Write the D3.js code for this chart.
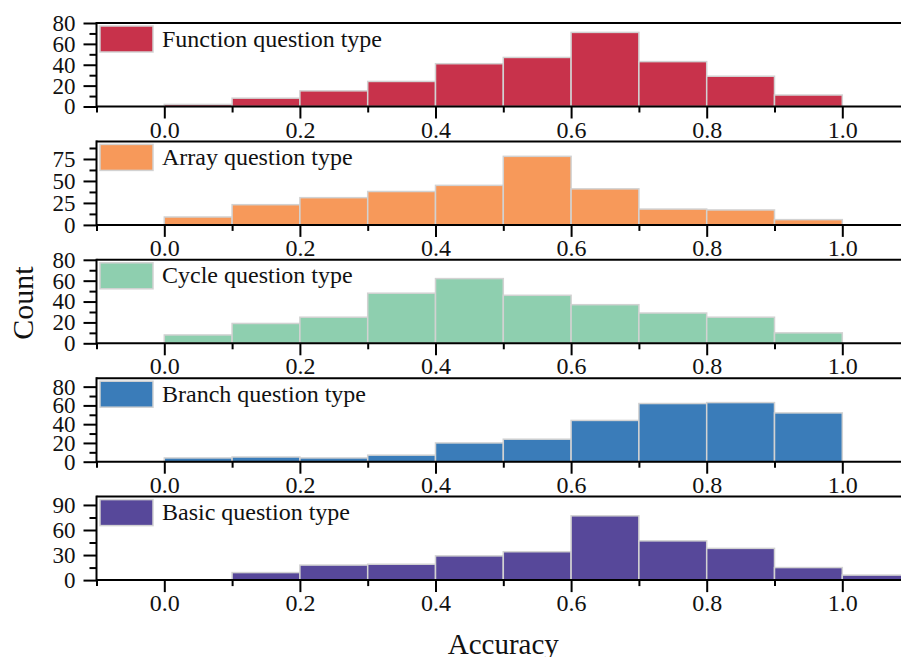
<!DOCTYPE html>
<html>
<head>
<meta charset="utf-8">
<script src="https://cdn.jsdelivr.net/npm/d3@7"></script>
<style>
  body { margin: 0; background: #fff; }
  svg { display: block; font-family: "Liberation Serif", "Times New Roman", serif; }
</style>
</head>
<body>
<div id="chart"></div>
<script>
// bin left edges (width 0.1)
const binStarts = [0.0, 0.1, 0.2, 0.3, 0.4, 0.5, 0.6, 0.7, 0.8, 0.9, 1.0];

const panelNames = ["Function question type", "Array question type", "Cycle question type",
  "Branch question type", "Basic question type"];

const functionCounts = [2, 8, 15, 24, 41, 47, 71, 43, 29, 11, 0];
const arrayCounts = [9, 23, 31, 38, 45, 78, 41, 18, 17, 6, 0];
const cycleCounts = [8, 19, 25, 48, 62, 46, 37, 29, 25, 10, 0];
const branchCounts = [4, 5, 4, 7, 20, 24, 44, 62, 63, 52, 0];
const basicCounts = [0, 9, 18, 19, 29, 34, 77, 47, 38, 15, 6];

const yMax = [80, 95, 80, 89, 100];
const yTicks = [[0, 20, 40, 60, 80], [0, 25, 50, 75], [0, 20, 40, 60, 80], [0, 20, 40, 60, 80], [0, 30, 60, 90]];
const yMinorStep = [10, 12.5, 10, 10, 15];
const xTicks = [0.0, 0.2, 0.4, 0.6, 0.8, 1.0];
const xMinorTicks = [-0.1, 0.1, 0.3, 0.5, 0.7, 0.9, 1.1];

const colors = ["#c8324b", "#f7995a", "#8ecfaf", "#3a7cb9", "#57489a"];

const allCounts = [functionCounts, arrayCounts, cycleCounts, branchCounts, basicCounts];

const W = 901, H = 657;
const left = 96.5, top0 = 23, step = 118.4, panelH = 83.5;

const svg = d3.select("#chart").append("svg").attr("width", W).attr("height", H);

const x = d3.scaleLinear().domain([-0.1, 1.1]).range([left, left + 1.2 * 678]);

allCounts.forEach((counts, i) => {
  const top = top0 + i * step;
  const bottom = top + panelH;
  const y = d3.scaleLinear().domain([0, yMax[i]]).range([bottom, top]);
  const g = svg.append("g");

  // bars
  const bins = binStarts.map((b, j) => ({ x0: b, x1: b + 0.1, n: counts[j] })).filter(d => d.n > 0);
  g.selectAll("rect.bar").data(bins).join("rect")
    .attr("class", "bar")
    .attr("x", d => x(d.x0))
    .attr("width", d => x(d.x1) - x(d.x0))
    .attr("y", d => y(d.n))
    .attr("height", d => y(0) - y(d.n))
    .attr("fill", colors[i])
    .attr("stroke", "#d2d2d2")
    .attr("stroke-width", 1.5);

  // legend
  g.append("rect")
    .attr("x", left + 3.5).attr("y", top + 3)
    .attr("width", 53).attr("height", 26)
    .attr("fill", colors[i]).attr("stroke", "#d2d2d2").attr("stroke-width", 1.5);
  g.append("text")
    .attr("x", left + 65.5).attr("y", top + 23.5)
    .attr("font-size", 24).attr("fill", "#111")
    .text(panelNames[i]);

  // y axis
  const yMinor = d3.range(0, yMax[i] + 0.001, yMinorStep[i]).filter(v => !yTicks[i].includes(v));
  const ya = g.append("g").attr("transform", `translate(${left},0)`)
    .call(d3.axisLeft(y).tickValues(yTicks[i]).tickSize(13).tickPadding(8).tickFormat(d3.format("d")));
  ya.select(".domain").remove();
  ya.selectAll("text").attr("font-size", 23).attr("fill", "#111").attr("font-family", "Liberation Serif");
  const ym = g.append("g").attr("transform", `translate(${left},0)`)
    .call(d3.axisLeft(y).tickValues(yMinor).tickSize(7).tickFormat(""));
  ym.select(".domain").remove();

  // x axis
  const xa = g.append("g").attr("transform", `translate(0,${bottom})`)
    .call(d3.axisBottom(x).tickValues(xTicks).tickSize(12).tickPadding(2).tickFormat(d3.format(".1f")));
  xa.select(".domain").remove();
  xa.selectAll("text").attr("font-size", 24).attr("fill", "#111").attr("font-family", "Liberation Serif");
  const xm = g.append("g").attr("transform", `translate(0,${bottom})`)
    .call(d3.axisBottom(x).tickValues(xMinorTicks).tickSize(6).tickFormat(""));
  xm.select(".domain").remove();

  g.selectAll(".tick line").attr("stroke", "#000").attr("stroke-width", 2);

  // frame: top, bottom, left
  g.append("line").attr("x1", left).attr("x2", W).attr("y1", top).attr("y2", top)
    .attr("stroke", "#000").attr("stroke-width", 2);
  g.append("line").attr("x1", left).attr("x2", W).attr("y1", bottom).attr("y2", bottom)
    .attr("stroke", "#000").attr("stroke-width", 2);
  g.append("line").attr("x1", left).attr("x2", left).attr("y1", top - 1).attr("y2", bottom + 1)
    .attr("stroke", "#000").attr("stroke-width", 2);
});

// axis titles
svg.append("text")
  .attr("transform", `translate(33,303) rotate(-90)`)
  .attr("text-anchor", "middle")
  .attr("font-size", 30).attr("fill", "#111")
  .text("Count");

svg.append("text")
  .attr("x", x(0.5)).attr("y", 654)
  .attr("text-anchor", "middle")
  .attr("font-size", 29).attr("fill", "#111")
  .text("Accuracy");
</script>
</body>
</html>
